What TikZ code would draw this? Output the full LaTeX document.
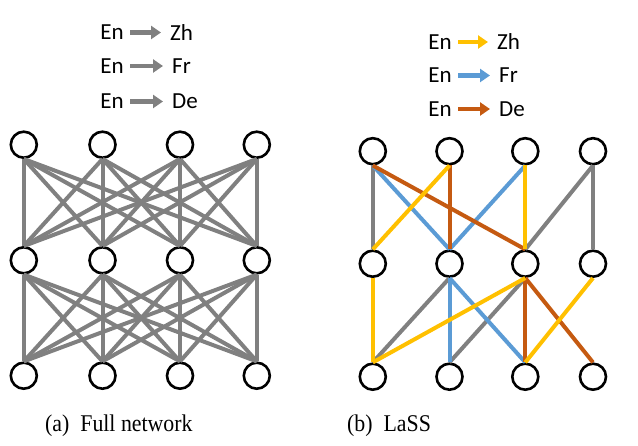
\documentclass[tikz,border=0pt]{standalone}
\usepackage{fontspec}
\setmainfont{Liberation Serif}
\newfontfamily\legfont{Carlito}
\usetikzlibrary{arrows.meta}

\definecolor{zhcol}{RGB}{255,192,0}
\definecolor{frcol}{RGB}{91,155,213}
\definecolor{decol}{RGB}{197,90,17}
\definecolor{edgegray}{RGB}{128,128,128}

\tikzset{
  neuron/.style={circle, draw=black, line width=2.6pt, fill=white, minimum size=26pt, inner sep=0pt},
  link/.style={line width=4pt, edgegray},
  legtext/.style={inner sep=0pt, font=\legfont\fontsize{23}{27}\selectfont},
  legarrow/.style={line width=4.5pt, -{Triangle[length=10pt,width=13pt]}, shorten <=6pt, shorten >=9pt},
  caption/.style={inner sep=0pt, anchor=base west, font=\fontsize{24}{28}\selectfont}
}

\begin{document}
\begin{tikzpicture}[x=1pt,y=-1pt]
  \useasboundingbox (0,0) rectangle (638,446);

  % legend (a)
  \node[legtext, anchor=east] (aen1) at (124,32.5) {En};
  \node[legtext, anchor=west] (azh) at (170,32.5) {Zh};
  \node[legtext, anchor=east] (aen2) at (124,66) {En};
  \node[legtext, anchor=west] (afr) at (172,66) {Fr};
  \node[legtext, anchor=east] (aen3) at (124,101.5) {En};
  \node[legtext, anchor=west] (ade) at (172,101.5) {De};
  \draw[legarrow, edgegray] (aen1.east) -- (azh.west);
  \draw[legarrow, edgegray] (aen2.east) -- (afr.west);
  \draw[legarrow, edgegray] (aen3.east) -- (ade.west);

  % legend (b)
  \node[legtext, anchor=east] (ben1) at (452,42) {En};
  \node[legtext, anchor=west] (bzh) at (497,42) {Zh};
  \node[legtext, anchor=east] (ben2) at (452,75.5) {En};
  \node[legtext, anchor=west] (bfr) at (499,75.5) {Fr};
  \node[legtext, anchor=east] (ben3) at (452,109) {En};
  \node[legtext, anchor=west] (bde) at (499,109) {De};
  \draw[legarrow, zhcol] (ben1.east) -- (bzh.west);
  \draw[legarrow, frcol] (ben2.east) -- (bfr.west);
  \draw[legarrow, decol] (ben3.east) -- (bde.west);

  % full network
  \foreach \i/\x in {1/23.8,2/102.5,3/180,4/256.8} {
    \node[neuron] (at\i) at (\x,144.7) {};
    \node[neuron] (am\i) at (\x,260.3) {};
    \node[neuron] (ab\i) at (\x,375.7) {};
  }
  \foreach \i in {1,...,4}
    \foreach \j in {1,...,4} {
      \draw[link] (at\i.south) -- (am\j.north);
      \draw[link] (am\i.south) -- (ab\j.north);
    }

  % LaSS
  \foreach \i/\x in {1/372.8,2/449.5,3/525.3,4/593} {
    \node[neuron] (bt\i) at (\x,151.2) {};
    \node[neuron] (bm\i) at (\x,263.7) {};
    \node[neuron] (bb\i) at (\x,376.7) {};
  }
  \draw[link] (bt1.south) -- (bm1.north);
  \draw[link] (bt4.south) -- (bm3.north);
  \draw[link] (bt4.south) -- (bm4.north);
  \draw[link] (bm2.south) -- (bb1.north);
  \draw[link] (bm3.south) -- (bb2.north);
  \draw[link, frcol] (bt1.south) -- (bm2.north);
  \draw[link, frcol] (bt3.south) -- (bm2.north);
  \draw[link, frcol] (bm2.south) -- (bb2.north);
  \draw[link, frcol] (bm2.south) -- (bb3.north);
  \draw[link, decol] (bt1.south) -- (bm3.north);
  \draw[link, decol] (bt2.south) -- (bm2.north);
  \draw[link, decol] (bm3.south) -- (bb3.north);
  \draw[link, decol] (bm3.south) -- (bb4.north);
  \draw[link, zhcol] (bt2.south) -- (bm1.north);
  \draw[link, zhcol] (bt3.south) -- (bm3.north);
  \draw[link, zhcol] (bm1.south) -- (bb1.north);
  \draw[link, zhcol] (bm3.south) -- (bb1.north);
  \draw[link, zhcol] (bm4.south) -- (bb3.north);

  % captions
  \node[caption] (capa) at (45,432) {\scalebox{0.91}[1]{(a)\enspace Full network}};
  \node[caption] (capb) at (347,432) {\scalebox{0.91}[1]{(b)\enspace LaSS}};
\end{tikzpicture}
\end{document}
